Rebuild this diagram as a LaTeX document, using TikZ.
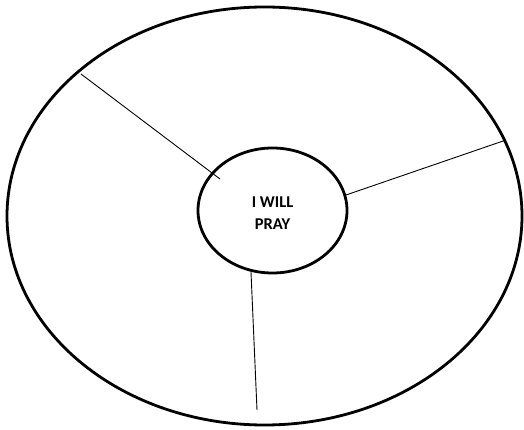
\documentclass[tikz,border=0pt]{standalone}
\usepackage{fontspec}
\setmainfont{Carlito}
\usetikzlibrary{shapes.geometric}
\begin{document}
\begin{tikzpicture}[x=1pt,y=-1pt,
  ring/.style={draw=black,line width=2.8pt},
  spoke/.style={draw=black,line width=0.9pt},
  lbl/.style={font=\bfseries\fontsize{16.5}{22}\selectfont,align=center,text=black}]
\useasboundingbox (0,0) rectangle (524,430);
\draw[ring] (264.5,216) ellipse [x radius=257.5, y radius=209];
\node[ring,ellipse,fill=white,minimum width=149,minimum height=125,inner sep=0] (core) at (272.5,210.5) {};
\node[lbl] (t) at (272.5,213) {I WILL\\PRAY};
\coordinate (a1) at (81,74);
\coordinate (a2) at (220,179);
\coordinate (b1) at (346,195);
\coordinate (b2) at (506,140);
\coordinate (c1) at (251,272);
\coordinate (c2) at (257,410);
\draw[spoke] (a1) -- (a2);
\draw[spoke] (b1) -- (b2);
\draw[spoke] (c1) -- (c2);
\end{tikzpicture}
\end{document}
